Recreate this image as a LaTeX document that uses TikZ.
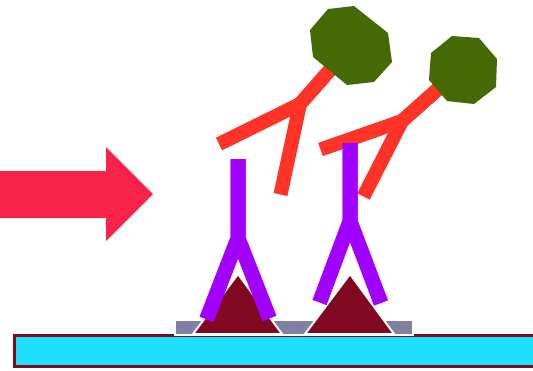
\documentclass[tikz,border=0pt]{standalone}
\usepackage{tikz}
\definecolor{mycyan}{RGB}{32,224,255}
\definecolor{mymaroon}{RGB}{128,8,32}
\definecolor{mygray}{RGB}{128,128,162}
\definecolor{mypurple}{RGB}{161,0,255}
\definecolor{myred}{RGB}{255,51,38}
\definecolor{mygreen}{RGB}{69,105,5}
\definecolor{myarrow}{RGB}{248,34,74}
\newcommand*\abwidth{15pt}
\tikzstyle{slide}=[draw=mymaroon,fill=mycyan,line width=3pt]
\tikzstyle{layer}=[draw=white,fill=mygray,line width=2pt]
\tikzstyle{antigen}=[draw=white,fill=mymaroon,line width=2pt,line join=miter]
\tikzstyle{primary}=[draw=mypurple,line width=\abwidth,line join=miter]
\tikzstyle{secondary}=[draw=myred,line width=14pt,line join=miter]
\tikzstyle{label}=[fill=mygreen]

\begin{document}
\begin{tikzpicture}[x=1pt,y=-1pt]
  \useasboundingbox (0,0) rectangle (533,370);
  % slide and coating
  \draw[slide] (14.5,335.5) rectangle (545,366.5);
  \draw[layer] (175,320) rectangle (413,335);
  % antigens
  \draw[antigen] (193,334) -- (238,274) -- (282,334) -- cycle;
  \draw[antigen] (305,334) -- (350,274) -- (394,334) -- cycle;
  % secondary antibodies
  \coordinate (s1) at (300,104);
  \coordinate (s1a) at (219,144);
  \coordinate (s1b) at (280.5,194.5);
  \coordinate (s1t) at (345,53);
  \coordinate (s2) at (402,121);
  \coordinate (s2a) at (320.5,149.5);
  \coordinate (s2b) at (363.5,196.5);
  \coordinate (s2t) at (455,74);
  \draw[secondary] (s1a) -- (s1) -- (s1t);
  \draw[secondary] (s1b) -- (s1) -- (s1t);
  \draw[secondary] (s2a) -- (s2) -- (s2t);
  \draw[secondary] (s2b) -- (s2) -- (s2t);
  % labels
  \fill[label] (310,30) -- (328,9) -- (354,6) -- (388,33) -- (392,62)
    -- (374,82) -- (347,85) -- (313,57) -- cycle;
  \fill[label] (431,53) -- (452,36) -- (479,38) -- (497,59) -- (496,87)
    -- (474,104) -- (447,101) -- (429,80) -- cycle;
  % primary antibodies
  \coordinate (p1) at (238,238);
  \coordinate (p1a) at (206.5,319.5);
  \coordinate (p1b) at (269.5,318.5);
  \coordinate (p1t) at (238,159);
  \coordinate (p2) at (350,221);
  \coordinate (p2a) at (319.5,302.5);
  \coordinate (p2b) at (381,303);
  \coordinate (p2t) at (350,143);
  \draw[primary] (p1a) -- (p1) -- (p1t);
  \draw[primary] (p1b) -- (p1) -- (p1t);
  \draw[primary] (p2a) -- (p2) -- (p2t);
  \draw[primary] (p2b) -- (p2) -- (p2t);
  % arrow
  \fill[myarrow] (-5,171) -- (106,171) -- (106,147) -- (153,194)
    -- (106,241) -- (106,218) -- (-5,218) -- cycle;
\end{tikzpicture}
\end{document}
